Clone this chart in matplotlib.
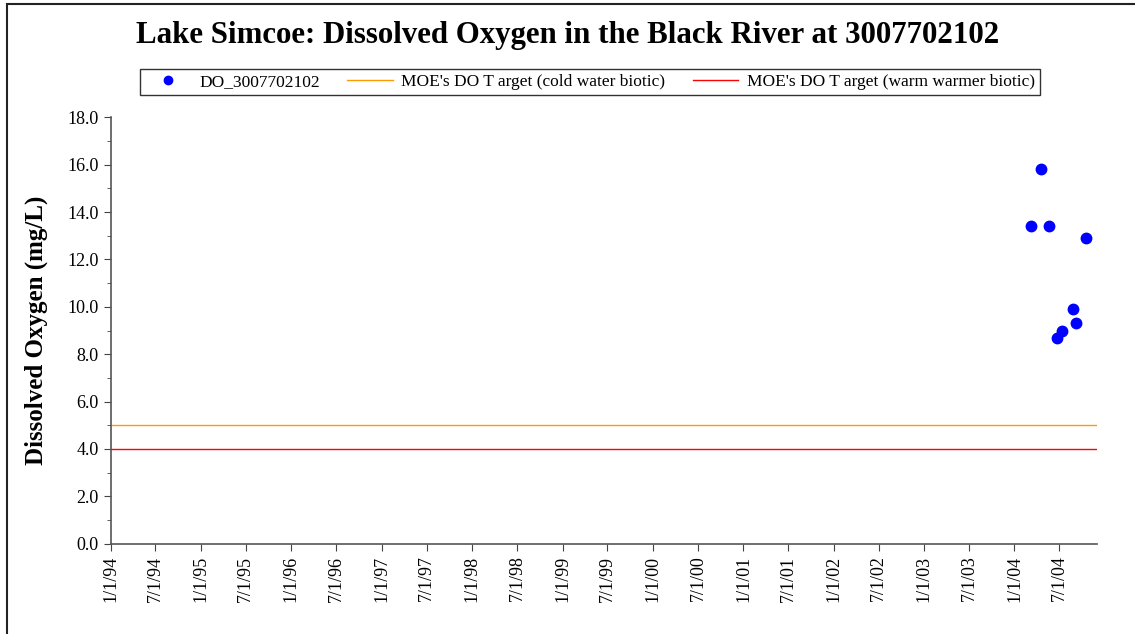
# Lake Simcoe - dissolved oxygen at station 3007702102, with MOE targets
import datetime as dt
import matplotlib
matplotlib.use('Agg')
import matplotlib.pyplot as plt
import matplotlib.dates as mdates
from matplotlib.ticker import FuncFormatter, MultipleLocator
from matplotlib.patches import Rectangle

# sample dates and DO values (mg/L)
do_dates = [dt.date(2004, 3, 8), dt.date(2004, 4, 16), dt.date(2004, 5, 19),
            dt.date(2004, 6, 21), dt.date(2004, 7, 11), dt.date(2004, 8, 26),
            dt.date(2004, 9, 6), dt.date(2004, 10, 16)]
do_values = [13.4, 15.8, 13.4, 8.7, 9.0, 9.9, 9.3, 12.9]

# target lines span the whole record
target_dates = [dt.date(1994, 1, 1), dt.date(2004, 12, 1)]
cold_target = [5.0, 5.0]
warm_target = [4.0, 4.0]

series_labels = ['DO_3007702102',
                 "MOE's DO T arget (cold water biotic)",
                 "MOE's DO T arget (warm warmer biotic)"]

plt.rcParams['font.family'] = ['Liberation Serif', 'DejaVu Serif']


def date_label(x, pos):
    d = mdates.num2date(x)
    return f"{d.month}/{d.day}/{d.strftime('%y')}"


def main():
    fig = plt.figure(figsize=(11.35, 6.34), dpi=100)
    ax = fig.add_axes([0.0975, 0.1424, 0.8693, 0.6726])

    # outer chart frame (only top and left edges visible)
    fig.add_artist(Rectangle((7 / 1135, -0.1), 1.2, 1 - 4 / 634 + 0.1,
                             transform=fig.transFigure, fill=False,
                             edgecolor='#222222', linewidth=1.5))

    ax.plot(do_dates, do_values, 'o', color='#0000FF', markersize=7.5,
            label=series_labels[0], zorder=3)
    ax.plot(target_dates, cold_target, color='#FF9900', linewidth=1.0,
            label=series_labels[1])
    ax.plot(target_dates, warm_target, color='#FF0000', linewidth=1.0,
            label=series_labels[2])

    ax.set_xlim(target_dates[0], target_dates[1])
    ax.set_ylim(0, 18)

    ax.yaxis.set_major_locator(MultipleLocator(2))
    ax.yaxis.set_minor_locator(MultipleLocator(1))
    ax.yaxis.set_major_formatter(FuncFormatter(lambda v, p: f"{v:.1f}"))
    ax.xaxis.set_major_locator(mdates.MonthLocator(bymonth=[1, 7]))
    ax.xaxis.set_major_formatter(FuncFormatter(date_label))

    ax.tick_params(axis='x', labelsize=13, rotation=90, length=5,
                   color='#444444')
    ax.tick_params(axis='y', which='major', labelsize=13, length=5,
                   color='#444444')
    ax.tick_params(axis='y', which='minor', length=3, color='#444444')

    for side in ('top', 'right'):
        ax.spines[side].set_visible(False)
    for side in ('left', 'bottom'):
        ax.spines[side].set_color('#555555')
        ax.spines[side].set_linewidth(1.2)

    ax.set_ylabel('Dissolved Oxygen (mg/L)', fontsize=18, fontweight='bold',
                  labelpad=14)

    fig.text(0.5, 1 - 35 / 634, 'Lake Simcoe: Dissolved Oxygen in the Black '
             'River at 3007702102', ha='center', va='center',
             fontsize=22.2, fontweight='bold')

    leg = fig.legend(loc='center', bbox_to_anchor=(590 / 1135, 1 - 82 / 634),
                     ncol=3, fontsize=12.5, frameon=True, fancybox=False,
                     borderpad=0.3, handlelength=2.6, columnspacing=1.6,
                     handletextpad=0.5, markerscale=0.8)
    leg.get_frame().set_edgecolor('black')
    leg.get_frame().set_linewidth(1.0)

    plt.savefig('out.png', dpi=100)
    plt.close()


if __name__ == "__main__":
    main()
